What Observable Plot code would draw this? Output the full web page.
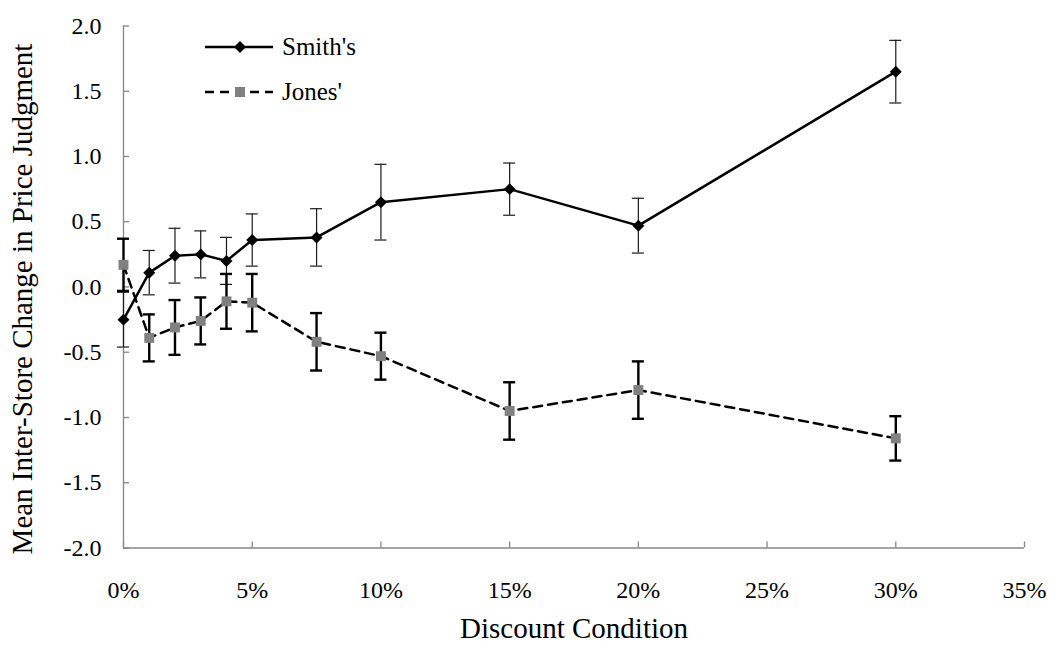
<!DOCTYPE html>
<html>
<head>
<meta charset="utf-8">
<script src="https://cdn.jsdelivr.net/npm/d3@7"></script>
<script src="https://cdn.jsdelivr.net/npm/@observablehq/plot@0.6"></script>
<style>
  html, body { margin: 0; padding: 0; background: #fff; }
  #chart { position: relative; width: 1050px; height: 652px; font-family: 'Liberation Serif', serif; }
  #chart svg, #chart svg text { font-family: 'Liberation Serif', serif !important; }
  #legend { position: absolute; left: 205px; top: 28px; font-family: 'Liberation Serif', serif !important; }
  .row { display: flex; align-items: center; height: 38px; margin-bottom: 7px; }
  .row span { font-size: 25px; margin-left: 9px; color: #000; font-family: 'Liberation Serif', serif !important; }
</style>
</head>
<body>
<div id="chart"></div>
<script>
// Discount conditions (percent) and the mean change for each store, with error bar half-widths
const discount = [0, 1, 2, 3, 4, 5, 7.5, 10, 15, 20, 30];
const smithMean = [-0.25, 0.11, 0.24, 0.25, 0.20, 0.36, 0.38, 0.65, 0.75, 0.47, 1.65];
const smithErr  = [0.21, 0.17, 0.21, 0.18, 0.18, 0.20, 0.22, 0.29, 0.20, 0.21, 0.24];
const jonesMean = [0.17, -0.39, -0.31, -0.26, -0.11, -0.12, -0.42, -0.53, -0.95, -0.79, -1.16];
const jonesErr  = [0.20, 0.18, 0.21, 0.18, 0.21, 0.22, 0.22, 0.18, 0.22, 0.22, 0.17];

const seriesNames = ["Smith's", "Jones'"];
const xTicks = [0, 5, 10, 15, 20, 25, 30, 35];
const yTicks = [-2, -1.5, -1, -0.5, 0, 0.5, 1, 1.5, 2];
const xTitle = "Discount Condition";
const yTitle = "Mean Inter-Store Change in Price Judgment";

const rows = (means, errs) => discount.map((x, i) => ({
  x, mean: means[i], lo: means[i] - errs[i], hi: means[i] + errs[i]
}));
const smith = rows(smithMean, smithErr);
const jones = rows(jonesMean, jonesErr);

const serif = "Liberation Serif";
const axisGray = "#868686";
const jonesGray = "#808080";

const chart = Plot.plot({
  width: 1050,
  height: 652,
  marginLeft: 123,
  marginRight: 26,
  marginTop: 25.5,
  marginBottom: 104.5,
  x: {domain: [0, 35]},
  y: {domain: [-2, 2]},
  style: {background: "#fff", overflow: "visible", color: "#000"},
  marks: [
    // axis lines and inward ticks
    Plot.ruleX([0], {stroke: axisGray, strokeWidth: 1.3}),
    Plot.ruleY([-2], {stroke: axisGray, strokeWidth: 1.3}),
    Plot.ruleX(xTicks, {x: d => d, y1: -2, y2: -2, insetTop: -6, stroke: axisGray, strokeWidth: 1.3}),
    Plot.ruleY(yTicks, {y: d => d, x1: 0, x2: 0, insetRight: -6, stroke: axisGray, strokeWidth: 1.3}),
    // tick labels
    Plot.axisX({ticks: xTicks, tickSize: 0, tickPadding: 32.5, tickFormat: d => d + "%", fontSize: 24, fontFamily: serif, label: null}),
    Plot.axisY({ticks: yTicks, tickSize: 0, tickPadding: 22, tickFormat: d => d.toFixed(1), fontSize: 24, fontFamily: serif, label: null}),
    // axis titles
    Plot.text([xTitle], {frameAnchor: "bottom", dy: 90, fontSize: 29, fontFamily: serif}),
    Plot.text([yTitle], {frameAnchor: "left", textAnchor: "middle", rotate: -90, dx: -101, dy: 12, fontSize: 29, fontFamily: serif}),
    // Smith's: solid line, thin error bars, black diamonds
    Plot.line(smith, {x: "x", y: "mean", stroke: "#000", strokeWidth: 2.5}),
    Plot.ruleX(smith, {x: "x", y1: "lo", y2: "hi", stroke: "#1a1a1a", strokeWidth: 1.2}),
    Plot.ruleY(smith, {y: "lo", x1: "x", x2: "x", insetLeft: -6, insetRight: -6, stroke: "#1a1a1a", strokeWidth: 1.2}),
    Plot.ruleY(smith, {y: "hi", x1: "x", x2: "x", insetLeft: -6, insetRight: -6, stroke: "#1a1a1a", strokeWidth: 1.2}),
    Plot.dot(smith, {x: "x", y: "mean", symbol: "diamond2", r: 5.4, fill: "#000", stroke: null}),
    // Jones': dashed line, heavy error bars, grey squares
    Plot.line(jones, {x: "x", y: "mean", stroke: "#000", strokeWidth: 2.5, strokeDasharray: "9,6"}),
    Plot.ruleX(jones, {x: "x", y1: "lo", y2: "hi", stroke: "#000", strokeWidth: 2.4}),
    Plot.ruleY(jones, {y: "lo", x1: "x", x2: "x", insetLeft: -6, insetRight: -6, stroke: "#000", strokeWidth: 2.4}),
    Plot.ruleY(jones, {y: "hi", x1: "x", x2: "x", insetLeft: -6, insetRight: -6, stroke: "#000", strokeWidth: 2.4}),
    Plot.dot(jones, {x: "x", y: "mean", symbol: "square", r: 5.6, fill: jonesGray, stroke: null})
  ]
});

const holder = document.getElementById("chart");
holder.appendChild(chart);

// legend placed inside the plotting area, upper left
const legend = document.createElement("div");
legend.id = "legend";
legend.innerHTML = `
  <div class="row">
    <svg width="68" height="20"><line x1="0" y1="10" x2="68" y2="10" stroke="#000" stroke-width="2.5"/>
      <path d="M35,4 L41,10 L35,16 L29,10 Z" fill="#000"/></svg>
    <span>${seriesNames[0]}</span>
  </div>
  <div class="row">
    <svg width="68" height="20"><line x1="0" y1="10" x2="68" y2="10" stroke="#000" stroke-width="2.5" stroke-dasharray="9,6"/>
      <rect x="30" y="5" width="10" height="10" fill="${jonesGray}"/></svg>
    <span>${seriesNames[1]}</span>
  </div>`;
holder.appendChild(legend);
</script>
</body>
</html>
